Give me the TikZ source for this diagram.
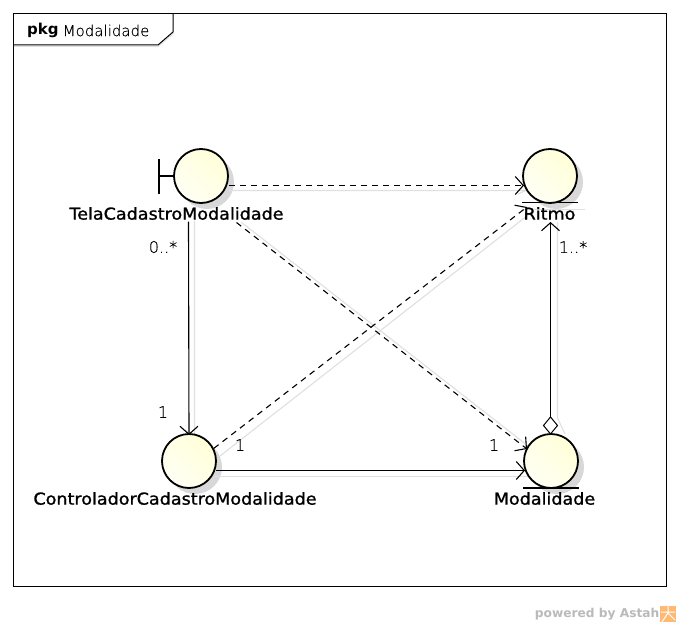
\documentclass[tikz,border=0pt]{standalone}
\usepackage{fontspec}
\setmainfont{DejaVu Sans}
\newfontfamily\thinfont[FakeBold=0.3]{DejaVu Sans ExtraLight}
\newfontfamily\labfont[FakeBold=1.2,FakeStretch=1.07]{DejaVu Sans}
\usetikzlibrary{arrows.meta}
\definecolor{shadowgrey}{HTML}{D8D8D8}
\definecolor{lineshadow}{HTML}{E0E0E0}
\tikzset{
  x=1pt,y=-1pt,
  objcircle/.style={circle,draw=black,line width=1.8pt,minimum size=54pt,inner sep=0pt,
    left color=white!96!yellow,right color=yellow!15!white,shading angle=135},
  circleshadow/.style={circle,fill=shadowgrey,minimum size=54pt,inner sep=0pt},
  elemlabel/.style={font=\labfont\fontsize{16.4}{18}\selectfont,inner sep=0pt,text=black},
  multlabel/.style={font=\thinfont\fontsize{16}{18}\selectfont,inner sep=0pt,text=black},
  solidbar/.style={line width=1.8pt,black},
  openhead/.style={-{Straight Barb[length=8pt,width=18pt,line width=1.1pt]}},
  conn/.style={line width=1.1pt,black,openhead},
  dashconn/.style={conn,dash pattern=on 6pt off 5pt},
  connshadow/.style={line width=1.1pt,lineshadow},
}
\begin{document}
\begin{tikzpicture}
\useasboundingbox (0,0) rectangle (680,626);
% frame
\fill[white] (0,0) rectangle (680,626);
\draw[lineshadow,line width=1pt] (14,46.5) -- (158,46.5) -- (174,33);
\node[draw=black,line width=1pt,minimum width=653pt,minimum height=572pt,inner sep=0pt,anchor=north west] (frame) at (13,13.5) {};
\draw[black,line width=1pt] (frame.north west) ++(0,31.5) -- ++(145,0) -- ++(15,-13) -- ++(0,-18.5);
\node[anchor=west,inner sep=0pt,font=\fontsize{15}{17}\selectfont\bfseries] (pkgkw) at (27,30.5) {pkg};
\node[anchor=west,inner sep=0pt,font=\thinfont\fontsize{15}{17}\selectfont] (pkgname) at (62.5,30.5) {Modalidade};
% circle shadows
\node[circleshadow] at (207,182) {};
\node[circleshadow] at (556,182) {};
\node[circleshadow] at (195,467) {};
\node[circleshadow] at (557,467) {};
% connector shadows
\draw[connshadow] (229,190.5) -- (526,190.5) -- (518,194);
\draw[connshadow] (194.5,221) -- (194.5,436) -- (185,430);
\draw[connshadow] (241,222) -- (532,449);
\draw[connshadow] (220,456) -- (532,212);
\draw[connshadow] (215,476.5) -- (530,476.5);
\draw[connshadow] (557.5,222) -- (557.5,418) -- (565,434);
\draw[lineshadow,line width=1pt] (522,209) -- (585,209);
% objects
\draw[solidbar] (159,159) -- (159,194);
\draw[solidbar] (159,176) -- (176,176);
\node[objcircle] (tela) at (201,176) {};
\node[objcircle] (ritmo) at (550,176) {};
\node[objcircle] (ctrl) at (189,461) {};
\node[objcircle] (modal) at (551,461) {};
\draw[solidbar] (522,202.5) -- (578,202.5);
\draw[solidbar] (523,488) -- (579,488);
\node[elemlabel] (telalab) at (176.5,213.5) {TelaCadastroModalidade};
\node[elemlabel] (ritmolab) at (549.5,213.5) {Ritmo};
\node[elemlabel] (ctrllab) at (175,498.5) {ControladorCadastroModalidade};
\node[elemlabel] (modallab) at (544.5,498.5) {Modalidade};
% connectors
\draw[dashconn] ([shift={(28,9.5)}]tela.center) -- ([shift={(-26,9.5)}]ritmo.center);
\draw[dashconn] ([shift={(60,9)}]telalab.center) -- ([shift={(-24,-12)}]modal.center);
\draw[dashconn] (ctrl.27) -- ([shift={(-23,31)}]ritmo.center);
\draw[conn] ([shift={(12,8)}]telalab.center) -- ([shift={(0,-26)}]ctrl.center);
\draw[conn] ([shift={(27,9.5)}]ctrl.center) -- ([shift={(-26,9.5)}]modal.center);
\draw[line width=1pt,black,fill=white] (550.5,434) -- (557.5,425.5) -- (550.5,417) -- (543.5,425.5) -- cycle;
\coordinate (diamondtop) at (550.5,417);
\draw[conn] (diamondtop) -- ([shift={(0.5,46)}]ritmo.center);
% multiplicities
\node[multlabel] (m1) at (163,247) {0..*};
\node[multlabel] (m2) at (163,412) {1};
\node[multlabel] (m3) at (240,445) {1};
\node[multlabel] (m4) at (494,445) {1};
\node[multlabel] (m5) at (573,247) {1..*};
% watermark
\node[anchor=east,inner sep=0pt,text=black!27,font=\fontsize{12.2}{15}\selectfont\bfseries] (wm) at (659.5,614.5) {powered by Astah};
\fill[orange!55] (660,606) rectangle (676,622);
\draw[white,line width=1pt] (661,612) -- (675,612) (668,606) -- (668,612) (662,622) -- (668,613) -- (675,620);
\end{tikzpicture}
\end{document}
